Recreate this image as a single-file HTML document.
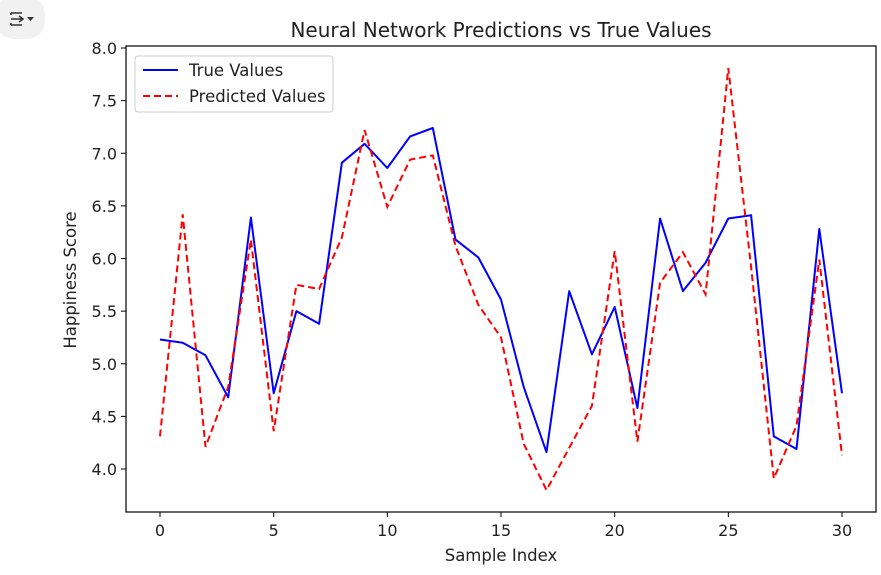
<!DOCTYPE html>
<html><head><meta charset="utf-8"><style>
html,body{margin:0;padding:0;background:#fff;width:881px;height:575px;overflow:hidden}
svg{display:block;font-family:"DejaVu Sans","Liberation Sans",sans-serif}
</style></head><body>
<svg id="chart" width="881" height="575" viewBox="0 0 881 575">
  <g>
    <rect x="-4" y="-4" width="49" height="43" rx="18" fill="#f1f1f1"/>
    <path d="M11 13 h11 M11 25 h11 M11 13 v2 M11 25 v-2 M11 19 h12 M19 16 l4 3 l-4 3" stroke="#333" stroke-width="1.6" fill="none"/>
    <path d="M27 17 h7 l-3.5 4 z" fill="#333"/>
  </g>
  <text x="501" y="37" text-anchor="middle" font-size="20" fill="#222">Neural Network Predictions vs True Values</text>
  <g id="axes"></g>
  <g id="series"></g>
  <text x="501" y="561" text-anchor="middle" font-size="16.5" fill="#222">Sample Index</text>
  <text transform="translate(76,280) rotate(-90)" text-anchor="middle" font-size="16.5" fill="#222">Happiness Score</text>
  <g>
    <rect x="135" y="56" width="198" height="56" rx="3" fill="#fff" stroke="#ccc"/>
    <line x1="143" y1="70" x2="178" y2="70" stroke="#0000ff" stroke-width="2"/>
    <text x="189" y="76" font-size="16.5" fill="#222">True Values</text>
    <line x1="143" y1="96" x2="178" y2="96" stroke="#ff0000" stroke-width="2" stroke-dasharray="7,4"/>
    <text x="189" y="102" font-size="16.5" fill="#222">Predicted Values</text>
  </g>
</svg>
<script>
const trueValues = [5.23,5.20,5.08,4.68,6.39,4.72,5.50,5.38,6.91,7.09,6.86,7.16,7.24,6.18,6.01,5.61,4.78,4.16,5.69,5.09,5.54,4.58,6.38,5.69,5.96,6.38,6.41,4.31,4.19,6.28,4.72];
const predictedValues = [4.31,6.42,4.21,4.78,6.18,4.36,5.75,5.71,6.20,7.22,6.49,6.94,6.98,6.12,5.56,5.25,4.24,3.80,4.20,4.60,6.07,4.26,5.77,6.06,5.66,7.81,5.92,3.91,4.41,5.99,4.13];
const xTicks = [0,5,10,15,20,25,30];
const yTicks = [4.0,4.5,5.0,5.5,6.0,6.5,7.0,7.5,8.0];

const NS = "http://www.w3.org/2000/svg";
const L = 126, R = 876, T = 46, B = 512;
function xScale(i){ return 160 + (842-160) * i / 30; }
function yScale(v){ return 469 - (469-48) * (v-4) / 4; }
function mk(tag, attrs, parent){ const e = document.createElementNS(NS, tag); for (const k in attrs) e.setAttribute(k, attrs[k]); parent.appendChild(e); return e; }

const axes = document.getElementById('axes');
const frame = mk('rect', {x:L, y:T, width:R-L, height:B-T, fill:'none', stroke:'#000', 'stroke-width':1.2}, axes);


xTicks.forEach(t => {
  const x = xScale(t);
  const tk = mk('line', {x1:x, y1:B, x2:x, y2:B+5, stroke:'#000'}, axes);
  
  
  const lb = mk('text', {x:x, y:B+24, 'text-anchor':'middle', 'font-size':16, fill:'#222'}, axes);
  lb.textContent = t;
  
  
});
yTicks.forEach(t => {
  const y = yScale(t);
  const tk = mk('line', {x1:L-5, y1:y, x2:L, y2:y, stroke:'#000'}, axes);
  
  
  const lb = mk('text', {x:L-9, y:y+6, 'text-anchor':'end', 'font-size':16, fill:'#222'}, axes);
  lb.textContent = t.toFixed(1);
  
  
});

const series = document.getElementById('series');
function pts(arr){ return arr.map((v,i) => xScale(i).toFixed(1) + ',' + yScale(v).toFixed(1)).join(' '); }
const lt = mk('polyline', {points:pts(trueValues), fill:'none', stroke:'#0000ff', 'stroke-width':2, 'stroke-linejoin':'round'}, series);


const lp = mk('polyline', {points:pts(predictedValues), fill:'none', stroke:'#ff0000', 'stroke-width':2, 'stroke-dasharray':'7,4'}, series);


</script>
</body></html>
